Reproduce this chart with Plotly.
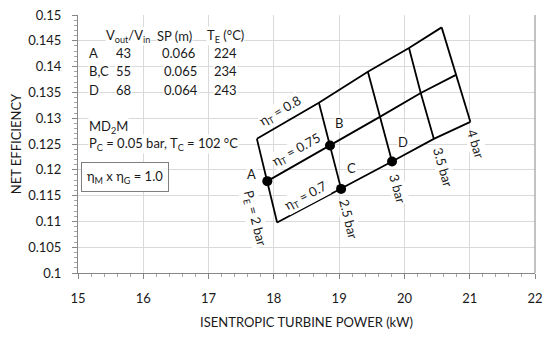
import plotly.graph_objects as go

# ---------------- data ----------------
pressures = [2, 2.5, 3, 3.5, 4]          # P_E (bar)
pressure_labels = ["P<sub>E</sub> = 2 bar", "2.5 bar", "3 bar", "3.5 bar", "4 bar"]
eta_t = [0.8, 0.75, 0.7]
power_08 = [17.74, 18.69, 19.44, 20.07, 20.57]
eff_08 = [0.1260, 0.1330, 0.1390, 0.1436, 0.1476]
power_075 = [17.90, 18.86, 19.63, 20.25, 20.79]
eff_075 = [0.1178, 0.1247, 0.1303, 0.1349, 0.1384]
power_07 = [18.05, 19.03, 19.81, 20.45, 21.01]
eff_07 = [0.1098, 0.1163, 0.1216, 0.1260, 0.1293]

powers = [power_08, power_075, power_07]
effs = [eff_08, eff_075, eff_07]

# design points: (name, eta index, pressure index)
points = [("A", 1, 0), ("B", 1, 1), ("C", 2, 1), ("D", 2, 2)]

x_ticks = [15, 16, 17, 18, 19, 20, 21, 22]
y_ticks = [0.1, 0.105, 0.11, 0.115, 0.12, 0.125, 0.13, 0.135, 0.14, 0.145, 0.15]
y_ticktext = ["0.1", "0.105", "0.11", "0.115", "0.12", "0.125", "0.13", "0.135", "0.14", "0.145", "0.15"]

table_rows = ["A", "B,C", "D"]
table_ratio = ["43", "55", "68"]
table_sp = ["0.066", "0.065", "0.064"]
table_te = ["224", "234", "243"]

FONT = "Lato"
FS = 13
fig = go.Figure()

# constant-efficiency lines
for p, e in zip(powers, effs):
    fig.add_trace(go.Scatter(x=p, y=e, mode="lines",
                             line=dict(color="black", width=1.8), showlegend=False,
                             hoverinfo="skip"))
# constant-pressure lines
for j in range(len(pressures)):
    fig.add_trace(go.Scatter(x=[p[j] for p in powers], y=[e[j] for e in effs],
                             mode="lines", line=dict(color="black", width=1.8),
                             showlegend=False, hoverinfo="skip"))
# design points
fig.add_trace(go.Scatter(x=[powers[i][j] for _, i, j in points],
                         y=[effs[i][j] for _, i, j in points],
                         mode="markers", marker=dict(color="black", size=10),
                         showlegend=False))

ann = []
def A(x, y, text, angle=0, xanchor="center", size=FS, bg="white", **kw):
    d = dict(x=x, y=y, xref="x", yref="y", text=text, showarrow=False,
             textangle=angle, xanchor=xanchor, yanchor="middle",
             font=dict(family=FONT, size=size, color="#1a1a1a"),
             bgcolor=bg, borderpad=0)
    d.update(kw)
    ann.append(d)

# point labels
A(17.66, 0.1192, "A")
A(18.996, 0.1291, "B")
A(19.19, 0.1203, "C")
A(19.985, 0.1254, "D")

# eta labels
A(18.107, 0.1313, "η<sub>T</sub> = 0.8", angle=-30)
A(18.345, 0.1239, "η<sub>T</sub> = 0.75", angle=-29)
A(18.49, 0.1150, "η<sub>T</sub> = 0.7", angle=-28)

# pressure labels
press_pos = [(17.71, 0.1105, 76), (19.15, 0.1105, 76), (19.90, 0.1163, 75),
             (20.59, 0.1205, 74), (21.095, 0.1250, 73)]
for (x, y, ang), t in zip(press_pos, pressure_labels):
    A(x, y, t, angle=ang)

# table
HY = 0.14593
A(15.41, HY, "V<sub>out</sub>/V<sub>in</sub>", xanchor="left")
A(16.19, HY, "SP (m)", xanchor="left")
A(16.958, HY, "T<sub>E</sub> (°C)", xanchor="left")
row_y = [0.14254, 0.13915, 0.13556]
sp_x = [16.27, 16.30, 16.30]
for k in range(3):
    A(15.15, row_y[k], table_rows[k], xanchor="left")
    A(15.57, row_y[k], table_ratio[k], xanchor="left")
    A(sp_x[k], row_y[k], table_sp[k], xanchor="left")
    A(17.068, row_y[k], table_te[k], xanchor="left")

A(15.15, 0.1282, "MD<sub>2</sub>M", xanchor="left")
A(15.15, 0.1250, "P<sub>C</sub> = 0.05 bar, T<sub>C</sub> = 102 °C", xanchor="left")

# efficiency box
A(15.724, 0.11851, "η<sub>M</sub> x η<sub>G</sub> = 1.0", bordercolor="#7f7f7f",
  borderwidth=1, borderpad=5)

fig.update_layout(
    width=550, height=337,
    margin=dict(l=70, r=23, t=7, b=72, autoexpand=False),
    plot_bgcolor="white", paper_bgcolor="white",
    font=dict(family=FONT, size=FS, color="#1a1a1a"),
    annotations=ann,
    xaxis=dict(range=[15, 22], tickvals=x_ticks, showgrid=True, gridcolor="#d9d9d9",
               gridwidth=1, showline=True, linecolor="#868686", linewidth=1,
               ticks="outside", ticklen=5, tickcolor="#868686", ticklabelstandoff=8,
               ticklabeloverflow="allow",
               minor=dict(dtick=0.2, tick0=15, ticks="outside", ticklen=3,
                          tickcolor="#a6a6a6", showgrid=False),
               title=dict(text="ISENTROPIC TURBINE POWER (kW)", standoff=13,
                          font=dict(size=FS)),
               automargin=False, zeroline=False, fixedrange=True),
    yaxis=dict(range=[0.1, 0.15], tickvals=y_ticks, ticktext=y_ticktext,
               showgrid=True, gridcolor="#d9d9d9", gridwidth=1,
               showline=True, linecolor="#868686", linewidth=1,
               ticks="outside", ticklen=5, tickcolor="#868686", ticklabelstandoff=8,
               ticklabeloverflow="allow",
               minor=dict(dtick=0.001, tick0=0.1, ticks="outside", ticklen=3,
                          tickcolor="#a6a6a6", showgrid=False),
               title=dict(text="NET EFFICIENCY", standoff=8, font=dict(size=FS)),
               automargin=False, zeroline=False, fixedrange=True),
)
fig.add_shape(type="line", xref="paper", yref="paper", x0=1, x1=1, y0=0, y1=1,
              line=dict(color="#868686", width=1))

fig.write_html("out.html")
